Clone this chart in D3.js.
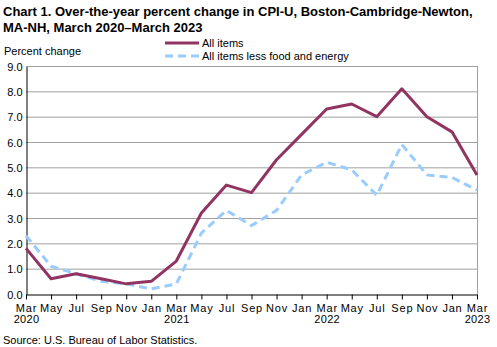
<!DOCTYPE html>
<html>
<head>
<meta charset="utf-8">
<script src="https://cdn.jsdelivr.net/npm/d3@7"></script>
<style>
  body { margin: 0; background: #fff; }
  text { font-family: "Liberation Sans", Arial, sans-serif; fill: #000; }
</style>
</head>
<body>
<div id="chart"></div>
<script>
const WIDTH = 497;
const HEIGHT = 347;

// bimonthly, Mar 2020 - Mar 2023
const MONTHS = ["Mar", "May", "Jul", "Sep", "Nov", "Jan", "Mar", "May", "Jul", "Sep",
  "Nov", "Jan", "Mar", "May", "Jul", "Sep", "Nov", "Jan", "Mar"];
const YEARS = ["2020", "", "", "", "", "", "2021", "", "", "", "", "", "2022", "", "", "", "", "", "2023"];
const ALL_ITEMS = [1.8, 0.6, 0.8, 0.6, 0.4, 0.5, 1.3, 3.2, 4.3, 4.0,
  5.3, 6.3, 7.3, 7.5, 7.0, 8.1, 7.0, 6.4, 4.7];
const CORE = [2.3, 1.1, 0.8, 0.5, 0.4, 0.2, 0.4, 2.4, 3.3, 2.7,
  3.3, 4.7, 5.2, 4.9, 3.9, 5.9, 4.7, 4.6, 4.1];
const Y_TICKS = [0, 1, 2, 3, 4, 5, 6, 7, 8, 9];

const LEFT = 26, RIGHT = 477, TOP = 66, BOTTOM = 294;

var xScale = d3.scaleLinear().domain([0, MONTHS.length - 1]).range([LEFT, RIGHT]);
var yScale = d3.scaleLinear().domain([0, 9]).range([BOTTOM, TOP]);

var svg = d3.select("#chart").append("svg")
  .attr("width", WIDTH).attr("height", HEIGHT);

// title
svg.append("text").attr("x", 3).attr("y", 16)
  .style("font-size", "13px").style("font-weight", "bold")
  .text("Chart 1. Over-the-year percent change in CPI-U, Boston-Cambridge-Newton,");
svg.append("text").attr("x", 3).attr("y", 32)
  .style("font-size", "13px").style("font-weight", "bold")
  .text("MA-NH, March 2020\u2013March 2023");

svg.append("text").attr("x", 4).attr("y", 55)
  .style("font-size", "11px").text("Percent change");

// legend
var legend = [
  { name: "All items", color: "#913461", dash: null },
  { name: "All items less food and energy", color: "#99ccff", dash: "8,5" }
];
legend.forEach(function (d, i) {
  var ly = 43 + i * 13;
  svg.append("line").attr("x1", 165).attr("x2", 199).attr("y1", ly).attr("y2", ly)
    .attr("stroke", d.color).attr("stroke-width", 3)
    .attr("stroke-dasharray", d.dash);
  svg.append("text").attr("x", 202).attr("y", ly + 4)
    .style("font-size", "11px").text(d.name);
});

// gridlines
svg.append("g").selectAll("line").data(Y_TICKS.slice(1)).enter().append("line")
  .attr("x1", LEFT).attr("x2", RIGHT)
  .attr("y1", d => yScale(d) + 0.5).attr("y2", d => yScale(d) + 0.5)
  .attr("stroke", "#a0a0a0").attr("stroke-width", 1);
svg.append("line").attr("x1", RIGHT + 0.5).attr("x2", RIGHT + 0.5)
  .attr("y1", TOP).attr("y2", BOTTOM)
  .attr("stroke", "#a0a0a0");

// y axis
var yAxis = d3.axisLeft(yScale).tickValues(Y_TICKS).tickSize(0).tickPadding(4)
  .tickFormat(d3.format(".1f"));
var yG = svg.append("g").attr("transform", "translate(" + (LEFT + 0.5) + ",0.5)").call(yAxis);
yG.select(".domain").attr("stroke", "#000");
yG.selectAll("text").style("font-size", "11px").style("font-family", "Liberation Sans, Arial, sans-serif");

// x axis
var xAxis = d3.axisBottom(xScale).tickValues(d3.range(MONTHS.length))
  .tickSize(5).tickSizeOuter(0).tickFormat(i => MONTHS[i]);
var xG = svg.append("g").attr("transform", "translate(0," + (BOTTOM + 0.5) + ")").call(xAxis);
xG.select(".domain").attr("stroke", "#000");
xG.selectAll(".tick line").attr("stroke", "#000");
xG.selectAll("text").attr("dy", null).attr("y", 17)
  .style("font-size", "11px").style("letter-spacing", "0.8px")
  .style("font-family", "Liberation Sans, Arial, sans-serif");
xG.selectAll(".tick").append("text")
  .attr("y", 28).attr("text-anchor", "middle").attr("fill", "#000")
  .style("font-size", "11px").style("letter-spacing", "0.3px")
  .style("font-family", "Liberation Sans, Arial, sans-serif")
  .text(i => YEARS[i]);

// lines
var line = d3.line().x((d, i) => xScale(i)).y(d => yScale(d));
svg.append("path").datum(CORE).attr("d", line)
  .attr("fill", "none").attr("stroke", "#99ccff").attr("stroke-width", 3)
  .attr("stroke-dasharray", "8,5");
svg.append("path").datum(ALL_ITEMS).attr("d", line)
  .attr("fill", "none").attr("stroke", "#913461").attr("stroke-width", 3)
  .attr("stroke-linejoin", "round");

svg.append("text").attr("x", 3).attr("y", 344)
  .style("font-size", "11px").text("Source: U.S. Bureau of Labor Statistics.");
</script>
</body>
</html>
